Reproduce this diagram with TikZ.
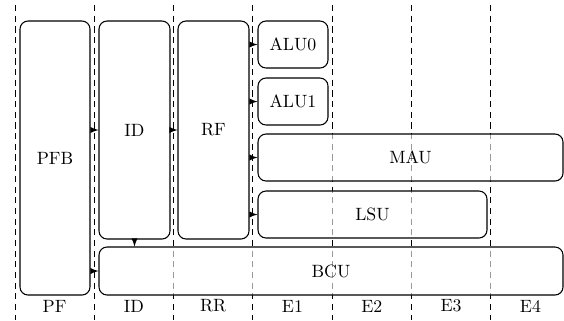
\documentclass[tikz,border=0pt]{standalone}
\usepackage{amsmath,amssymb}
\usepackage{xcolor}
\usepackage{tikz}
\usetikzlibrary{fit}
\tikzset{
  unitbox/.style={draw, line width=0.6pt, rounded corners=4.5pt, fill=white,
    fill opacity=0.6, text opacity=1, inner sep=0pt},
  stageline/.style={dashed, dash pattern=on 3.5pt off 2.5pt, line width=0.5pt},
  flow/.style={-latex, line width=0.6pt}
}
\newcommand{\pipeunit}[6]{%
  \node[unitbox, fit={(#2,#3) (#4,#5)},
    label={[name=#1-text, fill opacity=1]center:#6}] (#1) {};}

\begin{document}
\begin{tikzpicture}[x=0.562pt, y=-0.562pt]
\useasboundingbox (0,0) rectangle (564,320);

% stage boundaries
\foreach \i in {0,...,6}
  \draw[stageline] (15+\i*79.3, 5) -- (15+\i*79.3, 320);

% stage names
\foreach \s [count=\n from 0] in {PF,ID,RR,E1,E2,E3,E4}
  \node (stage\n) at (54.6+\n*79.3, 306) {\s};

% units
\pipeunit{pfb}{20}{21}{90}{295}{PFB}
\pipeunit{id}{99}{21}{170}{239}{ID}
\pipeunit{rf}{178}{21}{249}{239}{RF}
\pipeunit{alu0}{258}{21}{328}{68}{ALU0}
\pipeunit{alu1}{258}{78}{328}{125}{ALU1}
\pipeunit{mau}{258}{134}{563}{181}{MAU}
\pipeunit{lsu}{258}{191}{487}{238}{LSU}
\pipeunit{bcu}{99}{247}{563}{295}{BCU}

% connections
\draw[flow] (pfb.east |- id) -- (id.west);
\draw[flow] (id.east) -- (rf.west);
\draw[flow] (rf.east |- alu0) -- (alu0.west);
\draw[flow] (rf.east |- alu1) -- (alu1.west);
\draw[flow] (rf.east |- mau) -- (mau.west);
\draw[flow] (rf.east |- lsu) -- (lsu.west);
\draw[flow] (id.south) -- (id.south |- bcu.north);
\draw[flow] (pfb.east |- bcu) -- (bcu.west);

\end{tikzpicture}
\end{document}
